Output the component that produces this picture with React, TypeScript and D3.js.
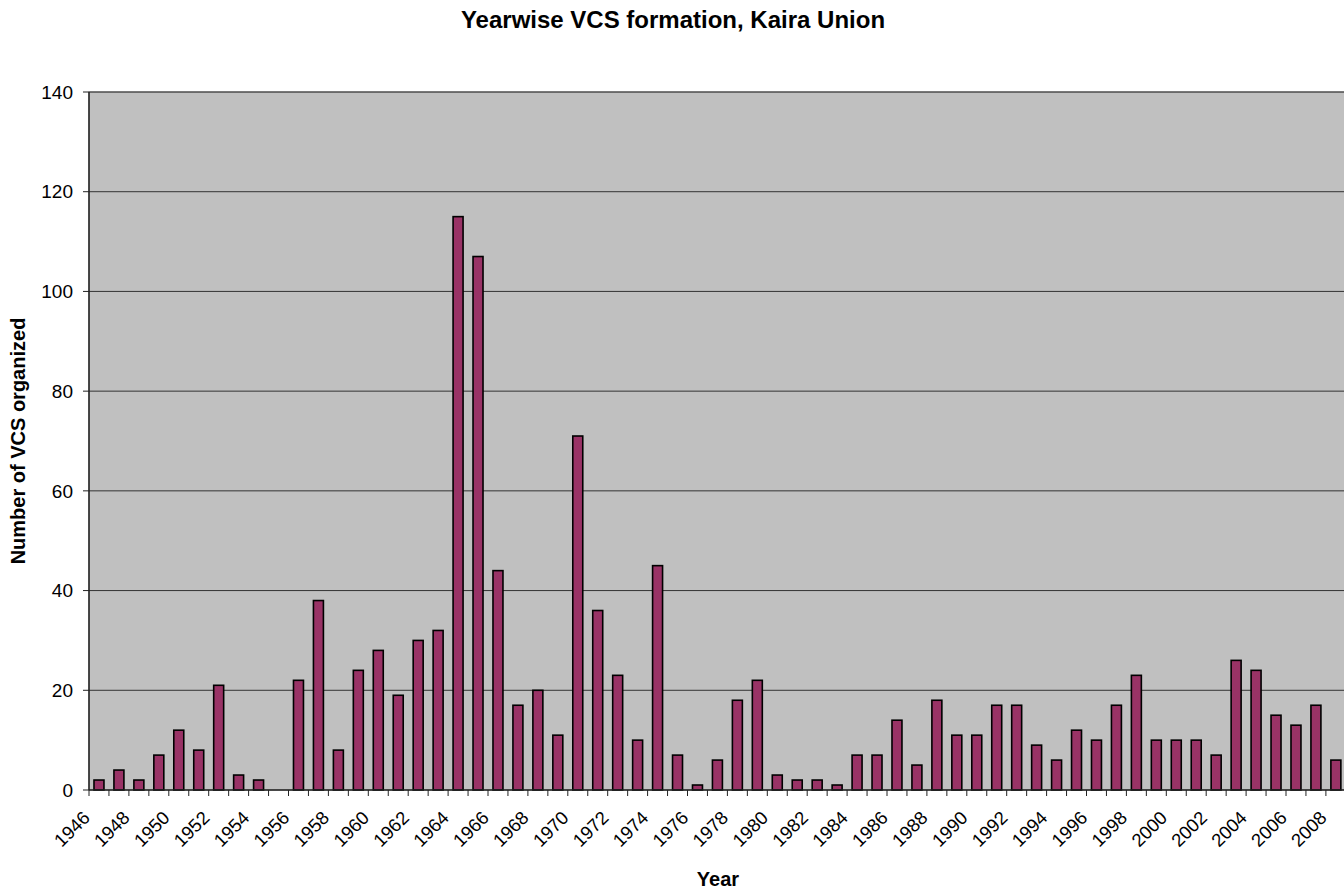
import React from 'react'
import * as d3 from 'd3'

const years: number[] = d3.range(1946, 2009)
const counts: number[] = [
  2, 4, 2, 7, 12, 8, 21, 3, 2, 0,
  22, 38, 8, 24, 28, 19, 30, 32, 115, 107,
  44, 17, 20, 11, 71, 36, 23, 10, 45, 7,
  1, 6, 18, 22, 3, 2, 2, 1, 7, 7,
  14, 5, 18, 11, 11, 17, 17, 9, 6, 12,
  10, 17, 23, 10, 10, 10, 7, 26, 24, 15,
  13, 17, 6,
]
const yTicks: number[] = [0, 20, 40, 60, 80, 100, 120, 140]

const W = 1344
const H = 892
const left = 89
const top = 92
const bottom = 790
const step = 19.95
const right = left + years.length * step
const font = '"Liberation Sans", Arial, sans-serif'

export default function App() {
  const x = d3.scaleBand<number>().domain(years).range([left, right]).paddingInner(0.5).paddingOuter(0.25)
  const y = d3.scaleLinear().domain([0, 140]).range([bottom, top])
  const bw = x.bandwidth()

  return (
    <svg width={W} height={H} style={{ position: 'absolute', left: 0, top: 0, fontFamily: font }}>
      <rect x={0} y={0} width={W} height={H} fill="#fff" />
      <rect x={left} y={top} width={right - left} height={bottom - top} fill="#c0c0c0" stroke="#808080" strokeWidth={1} />
      {yTicks.slice(1).map(t => (
        <line key={'g' + t} x1={left} x2={right} y1={y(t)} y2={y(t)} stroke="#333" strokeWidth={1} />
      ))}
      {years.map((yr, i) => counts[i] > 0 ? (
        <rect key={yr} x={x(yr)!} y={y(counts[i])} width={bw} height={y(0) - y(counts[i])}
          fill="#993366" stroke="#000" strokeWidth={1.6} />
      ) : null)}
      <line x1={left} x2={left} y1={top} y2={bottom} stroke="#222" strokeWidth={1.5} />
      <line x1={left} x2={right} y1={bottom} y2={bottom} stroke="#222" strokeWidth={1.5} />
      {yTicks.map(t => (
        <g key={'t' + t}>
          <line x1={left - 6} x2={left} y1={y(t)} y2={y(t)} stroke="#222" strokeWidth={1} />
          <text x={left - 16} y={y(t)} dy="0.35em" textAnchor="end" fontSize={19}>{t}</text>
        </g>
      ))}
      {years.map((yr, i) => {
        const bx = left + i * step
        return <line key={'xt' + yr} x1={bx} x2={bx} y1={bottom} y2={bottom + 6} stroke="#222" strokeWidth={1} />
      })}
      {years.filter((_, i) => i % 2 === 0).map(yr => {
        const cx = x(yr)! + bw / 2 - 8
        const cy = 819
        return (
          <text key={'xl' + yr} x={cx} y={cy} textAnchor="end" fontSize={18.5}
            transform={`rotate(-45 ${cx} ${cy})`}>{yr}</text>
        )
      })}
      <text x={673} y={28} textAnchor="middle" fontSize={24} fontWeight="bold">Yearwise VCS formation, Kaira Union</text>
      <text x={718} y={886} textAnchor="middle" fontSize={20} fontWeight="bold">Year</text>
      <text transform="translate(25,441) rotate(-90)" textAnchor="middle" fontSize={20} fontWeight="bold">Number of VCS organized</text>
    </svg>
  )
}
